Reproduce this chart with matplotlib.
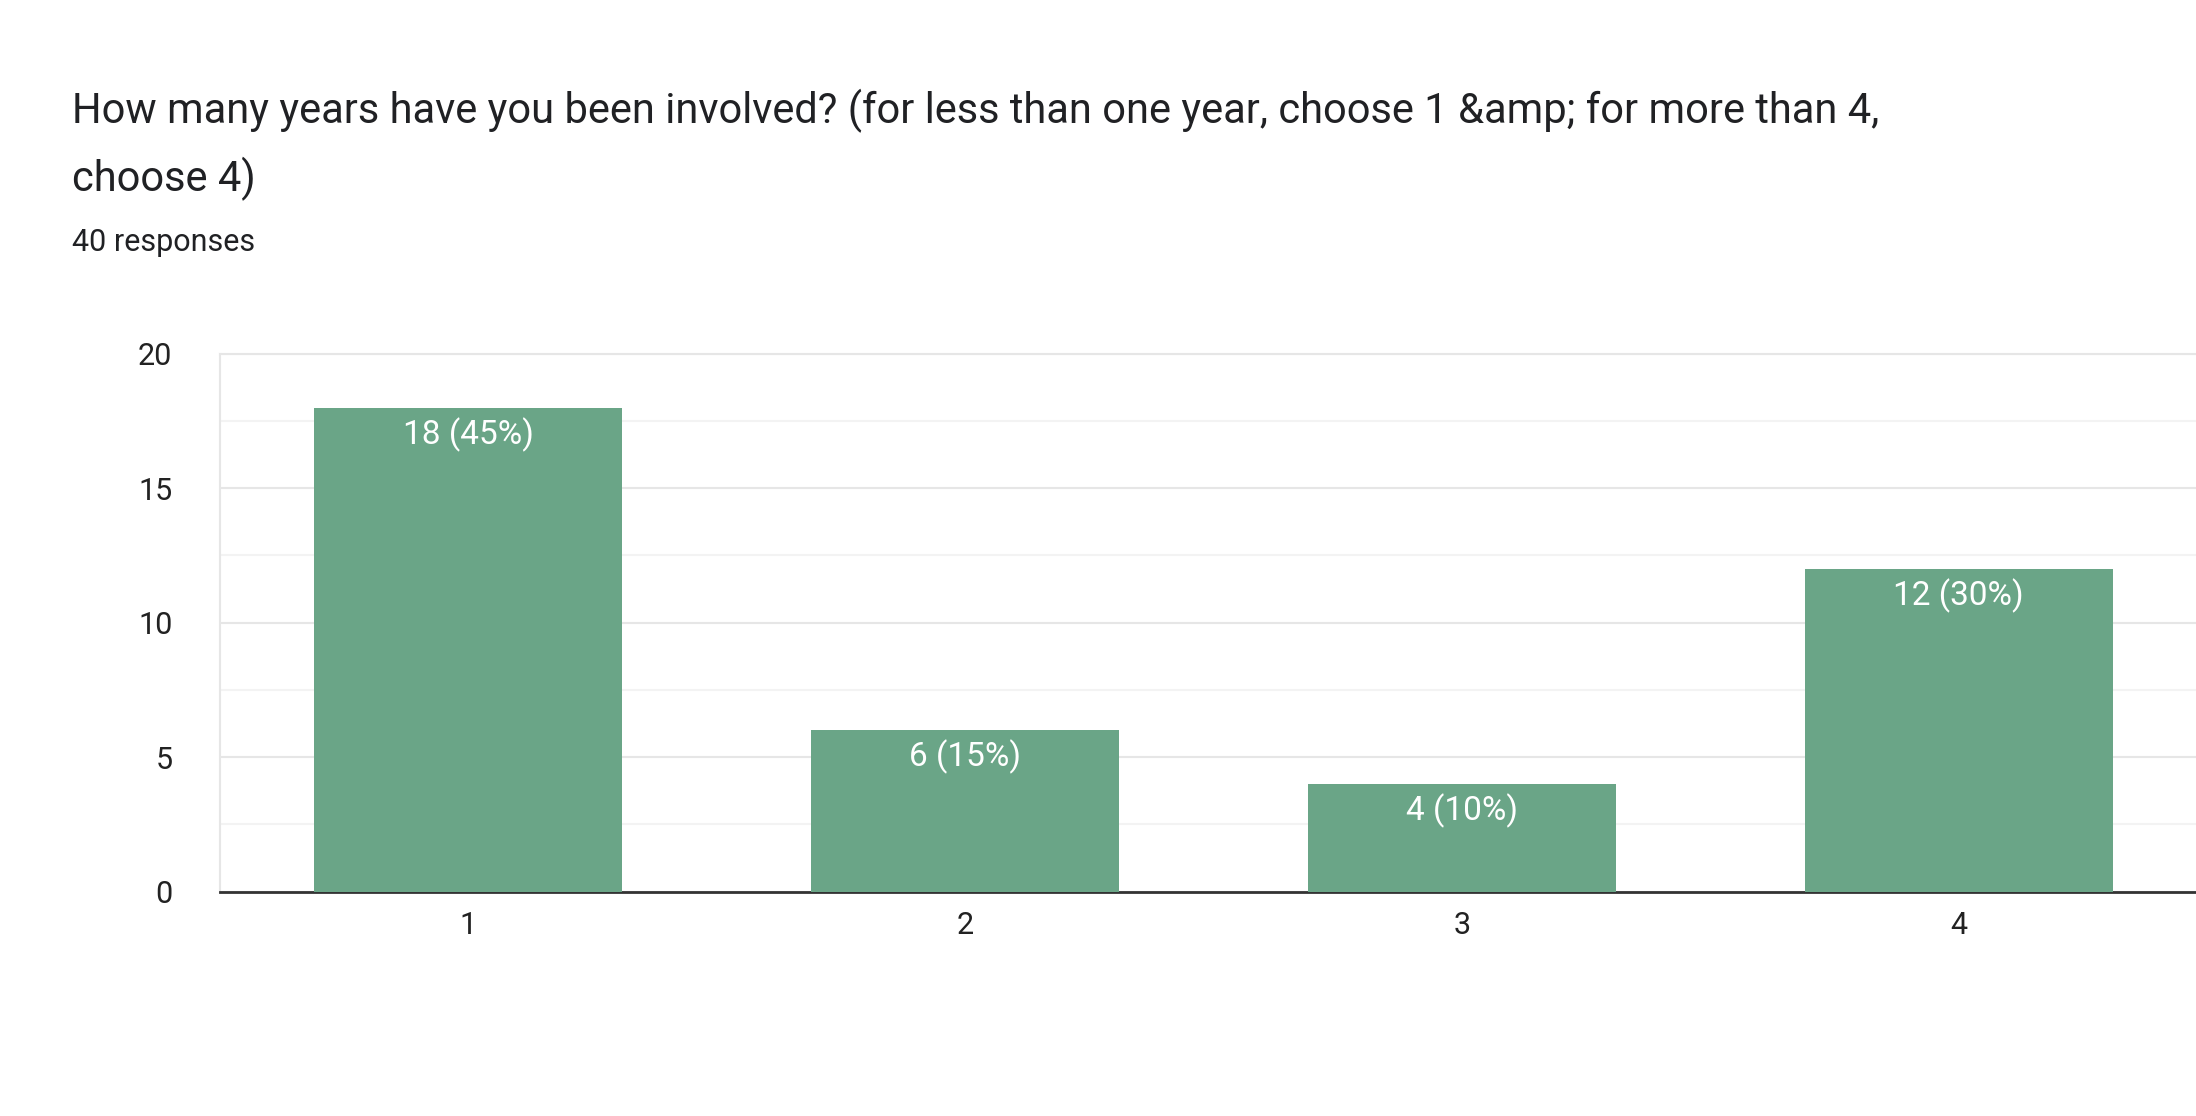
import matplotlib.pyplot as plt
import numpy as np

plt.rcParams['font.family'] = ['Roboto', 'DejaVu Sans']

categories = ['1', '2', '3', '4']
counts = [18, 6, 4, 12]
labels = ['18 (45%)', '6 (15%)', '4 (10%)', '12 (30%)']

fig = plt.figure(figsize=(21.96, 11.16), dpi=100)
ax = fig.add_axes([0.100, 0.201, 0.905, 0.482])

x = np.arange(1, len(categories) + 1)
bars = ax.bar(x, counts, width=0.62, color='#6aa587', zorder=3)
for b, lab in zip(bars, labels):
    ax.text(b.get_x() + b.get_width() / 2, b.get_height() - 0.35, lab,
            ha='center', va='top', color='white', fontsize=24, zorder=4)

ax.set_xlim(0.5, 4.5)
ax.set_ylim(0, 20)
ax.set_xticks(x)
ax.set_xticklabels(categories)
ax.set_yticks([0, 5, 10, 15, 20])
ax.set_yticks([2.5, 7.5, 12.5, 17.5], minor=True)
ax.grid(axis='y', which='major', color='#e6e6e6', linewidth=1.5, zorder=0)
ax.grid(axis='y', which='minor', color='#f3f3f3', linewidth=1.5, zorder=0)
ax.tick_params(axis='both', which='both', length=0, labelsize=22, colors='#222222', pad=14)
ax.tick_params(axis='y', pad=34)
for s in ['top', 'left']:
    ax.spines[s].set_color('#e6e6e6')
    ax.spines[s].set_linewidth(1.5)
ax.spines['right'].set_visible(False)
ax.spines['bottom'].set_color('#333333')
ax.spines['bottom'].set_linewidth(2)

fig.text(0.033, 0.89, 'How many years have you been involved? (for less than one year, choose 1 &amp; for more than 4,',
         fontsize=30, color='#202124', va='baseline')
fig.text(0.033, 0.829, 'choose 4)', fontsize=30, color='#202124', va='baseline')
fig.text(0.033, 0.775, '40 responses', fontsize=22, color='#202124', va='baseline')

fig.savefig('out.png', dpi=100, facecolor='white')
